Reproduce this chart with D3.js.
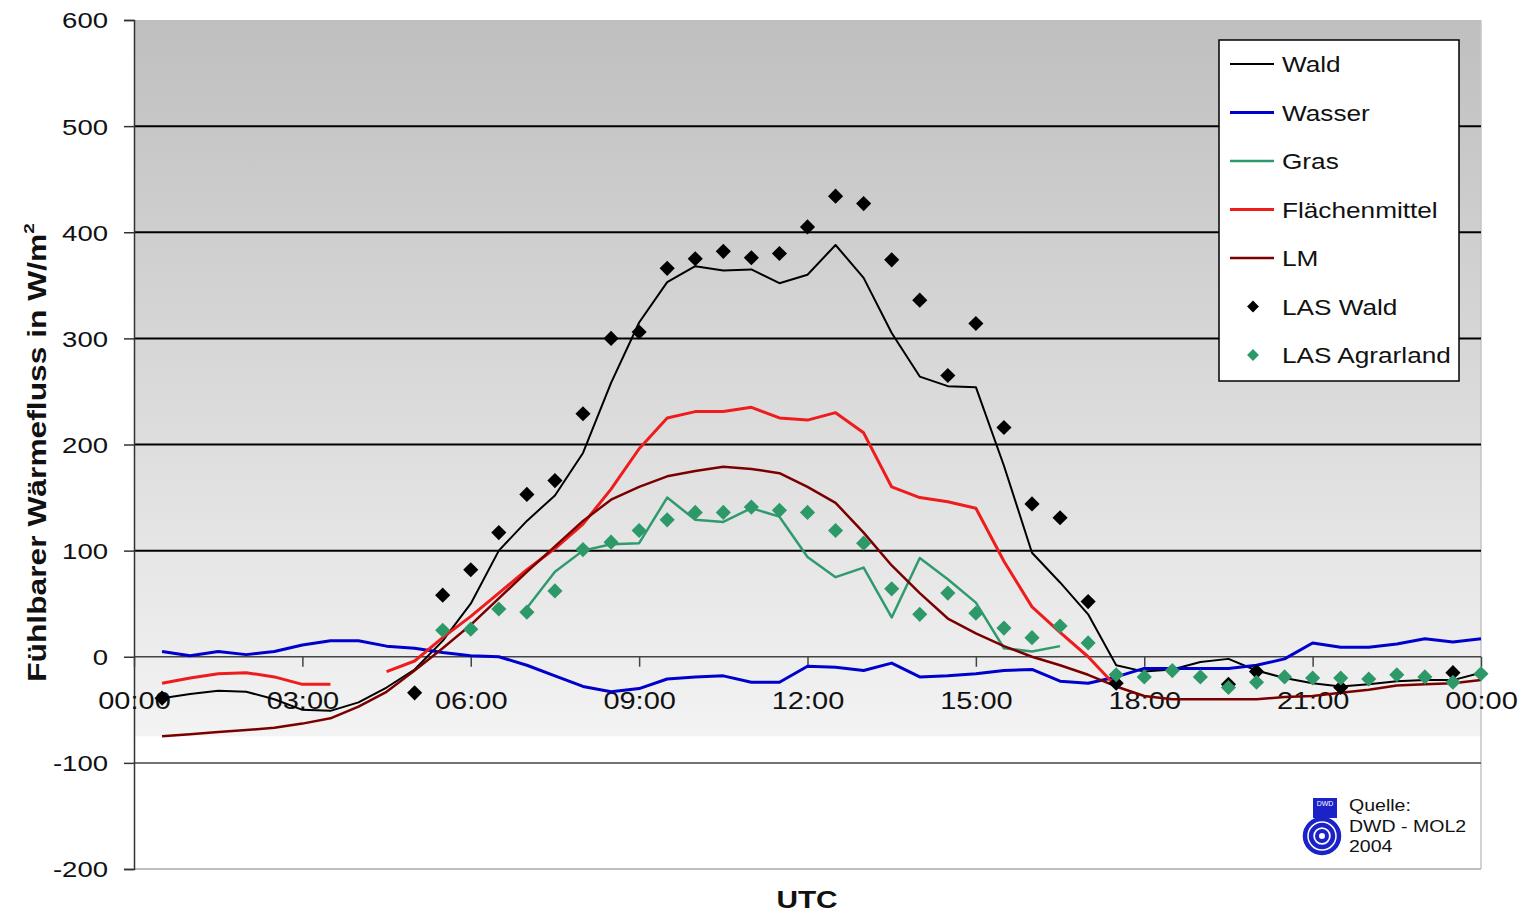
<!DOCTYPE html>
<html>
<head>
<meta charset="utf-8">
<script src="https://cdn.jsdelivr.net/npm/d3@7"></script>
<style>
  html, body { margin: 0; padding: 0; background: #fff; }
  svg { display: block; font-family: "Liberation Sans", Arial, sans-serif; }
</style>
</head>
<body>
<svg id="chart" width="1533" height="915"></svg>
<script>
// ---------- DATA ----------
const times = [0.5,1,1.5,2,2.5,3,3.5,4,4.5,5,5.5,6,6.5,7,7.5,8,8.5,9,9.5,10,10.5,11,11.5,12,
               12.5,13,13.5,14,14.5,15,15.5,16,16.5,17,17.5,18,18.5,19,19.5,20,20.5,21,21.5,22,22.5,23,23.5,24];

const wald = [-39,-35,-32,-33,-40,-50,-51,-43,-29,-12,15,50,100,128,152,192,258,315,353,368,364,365,352,360,
              388,357,305,264,255,254,180,98,70,40,-8,-14,-12,-5,-2,-13,-20,-25,-28,-26,-23,-22,-22,-15];

const wasser = [5,1,5,2,5,11,15,15,10,8,4,1,0,-8,-18,-28,-33,-30,-21,-19,-18,-24,-24,-9,
                -10,-13,-6,-19,-18,-16,-13,-12,-23,-25,-19,-11,-11,-11,-11,-8,-2,13,9,9,12,17,14,17];

const gras = [null,null,null,null,null,null,null,null,null,null,null,null,null,46,80,100,106,107,150,129,127,140,132,94,
              75,84,37,93,73,51,8,5,10,null,null,null,null,null,null,null,null,null,null,null,null,null,null,null];

const flaechenmittel = [-25,-20,-16,-15,-19,-26,-26,null,-14,-4,18,38,60,82,102,125,158,196,225,231,231,235,225,223,
                        230,211,160,150,146,140,90,47,23,0,-28,null,null,null,null,null,null,null,null,null,null,null,null,null];

const lm = [-75,-73,-71,-69,-67,-63,-58,-47,-33,-13,8,30,55,80,104,128,148,160,170,175,179,177,173,160,
            145,117,86,60,36,22,10,0,-8,-17,-28,-37,-40,-40,-40,-40,-38,-37,-34,-31,-27,-26,-25,-22];

const lasWald = [-39,null,null,null,null,null,null,null,null,-34,58,82,117,153,166,229,300,306,366,375,382,376,380,405,
                 434,427,374,336,265,314,216,144,131,52,-25,null,null,null,-26,-14,null,null,-29,null,null,null,-15,null];

const lasAgrar = [null,null,null,null,null,null,null,null,null,null,25,26,45,42,62,101,108,119,129,136,136,141,138,136,
                  119,107,64,40,60,41,27,18,29,13,-17,-19,-13,-19,-29,-24,-19,-20,-20,-21,-17,-19,-24,-16];

const yTicks = [-200,-100,0,100,200,300,400,500,600];
const xTickValues = [0,3,6,9,12,15,18,21,24];
const xTickLabels = ["00:00","03:00","06:00","09:00","12:00","15:00","18:00","21:00","00:00"];

const lineSeries = [
  {name: "Wald", values: wald, color: "#000000", width: 2},
  {name: "Wasser", values: wasser, color: "#0000cc", width: 3},
  {name: "Gras", values: gras, color: "#2f9a6e", width: 2.5},
  {name: "Flächenmittel", values: flaechenmittel, color: "#ee1c1c", width: 3},
  {name: "LM", values: lm, color: "#7a0000", width: 2.5}
];
const pointSeries = [
  {name: "LAS Wald", values: lasWald, color: "#000000"},
  {name: "LAS Agrarland", values: lasAgrar, color: "#2e9968"}
];

// ---------- LAYOUT ----------
const svg = d3.select("#chart");
const x = d3.scaleLinear().domain([0, 24]).range([134, 1481]);
const y = d3.scaleLinear().domain([-200, 600]).range([869, 20]);

function stretch(sel, f) {
  sel.each(function() {
    const L = this.getComputedTextLength();
    this.setAttribute("textLength", L * f);
    this.setAttribute("lengthAdjust", "spacingAndGlyphs");
  });
}

// background gradient
const defs = svg.append("defs");
const grad = defs.append("linearGradient").attr("id", "bg").attr("x1", 0).attr("y1", 0).attr("x2", 0).attr("y2", 1);
grad.append("stop").attr("offset", "0%").attr("stop-color", "#bfbfbf");
grad.append("stop").attr("offset", "100%").attr("stop-color", "#f3f3f3");

svg.append("rect").attr("x", x(0)).attr("y", y(600)).attr("width", x(24) - x(0)).attr("height", y(-75) - y(600))
  .attr("fill", "url(#bg)");

// plot frame (right & bottom light grey)
svg.append("line").attr("x1", x(24)).attr("x2", x(24)).attr("y1", y(600)).attr("y2", y(-200))
  .attr("stroke", "#c4c4c4").attr("stroke-width", 1.5);
svg.append("line").attr("x1", x(0)).attr("x2", x(24)).attr("y1", y(-200)).attr("y2", y(-200))
  .attr("stroke", "#bdbdbd").attr("stroke-width", 2);

// horizontal gridlines
svg.append("g").selectAll("line").data(yTicks.filter(v => v > -200 && v < 600)).join("line")
  .attr("x1", x(0)).attr("x2", x(24)).attr("y1", d => y(d)).attr("y2", d => y(d))
  .attr("stroke", d => d > 0 ? "#000" : "#444").attr("stroke-width", d => d > 0 ? 2 : 1.5);

// y axis
const yAxis = svg.append("g").attr("transform", `translate(${x(0)},0)`)
  .call(d3.axisLeft(y).tickValues(yTicks).tickSize(10).tickPadding(16).tickFormat(d => String(d)));
yAxis.select(".domain").attr("stroke", "#333").attr("stroke-width", 1.5);
yAxis.selectAll(".tick line").attr("stroke", "#333").attr("stroke-width", 1.5);
yAxis.selectAll(".tick text").attr("font-size", 22).attr("fill", "#111")
  .attr("font-family", "Liberation Sans, Arial, sans-serif").attr("dy", "0.36em");
stretch(yAxis.selectAll(".tick text"), 1.25);

// x axis at zero line
const xAxis = svg.append("g").attr("transform", `translate(0,${y(0)})`)
  .call(d3.axisBottom(x).tickValues(xTickValues).tickSize(10).tickPadding(34)
        .tickFormat((d, i) => xTickLabels[i]));
xAxis.select(".domain").remove();
xAxis.selectAll(".tick line").attr("stroke", "#444").attr("stroke-width", 1.5);
xAxis.selectAll(".tick text").attr("font-size", 23).attr("fill", "#111")
  .attr("font-family", "Liberation Sans, Arial, sans-serif").attr("dy", "0.35em");
stretch(xAxis.selectAll(".tick text"), 1.26);

// lines
const lineGen = vals => d3.line()
  .defined((d, i) => vals[i] !== null)
  .x((d, i) => x(times[i]))
  .y((d, i) => y(vals[i]))(vals);

const linesG = svg.append("g");
lineSeries.forEach(s => {
  linesG.append("path").attr("d", lineGen(s.values)).attr("fill", "none")
    .attr("stroke", s.color).attr("stroke-width", s.width).attr("stroke-linejoin", "round");
});

// points (diamonds)
const diamond = d3.symbol().type(d3.symbolSquare).size(115);
pointSeries.forEach(s => {
  svg.append("g").selectAll("path")
    .data(s.values.map((v, i) => ({t: times[i], v})).filter(d => d.v !== null))
    .join("path")
    .attr("d", diamond)
    .attr("transform", d => `translate(${x(d.t)},${y(d.v)}) rotate(45)`)
    .attr("fill", s.color);
});

// y title
const yTitle = svg.append("text")
  .attr("transform", `translate(46,${(y(0) + y(400)) / 2 + 8}) rotate(-90)`)
  .attr("text-anchor", "middle").attr("font-size", 25).attr("font-weight", "bold").attr("fill", "#111");
yTitle.append("tspan").text("Fühlbarer Wärmefluss in W/m");
yTitle.append("tspan").attr("font-size", 15).attr("dy", -12).text("2");
stretch(yTitle, 1.27);

// x title
const xTitle = svg.append("text").attr("x", 807).attr("y", 908).attr("text-anchor", "middle")
  .attr("font-size", 24).attr("font-weight", "bold").attr("fill", "#111").text("UTC");
stretch(xTitle, 1.24);

// legend
const lg = svg.append("g");
lg.append("rect").attr("x", 1219).attr("y", 40).attr("width", 240).attr("height", 341)
  .attr("fill", "#fff").attr("stroke", "#000").attr("stroke-width", 1.5);
const legendItems = lineSeries.map(s => ({...s, type: "line"}))
  .concat(pointSeries.map(s => ({...s, type: "point"})));
const legendY = d3.scalePoint().domain(legendItems.map(d => d.name)).range([64, 355]);
legendItems.forEach(it => {
  const cy = legendY(it.name);
  if (it.type === "line") {
    lg.append("line").attr("x1", 1230).attr("x2", 1274).attr("y1", cy).attr("y2", cy)
      .attr("stroke", it.color).attr("stroke-width", it.width);
  } else {
    lg.append("path").attr("d", d3.symbol().type(d3.symbolSquare).size(70)())
      .attr("transform", `translate(1253,${cy}) rotate(45)`).attr("fill", it.color);
  }
  const t = lg.append("text").attr("x", 1282).attr("y", cy + 8).attr("font-size", 22)
    .attr("fill", "#111").text(it.name);
  stretch(t, 1.19);
});

// source logo + text
const logo = svg.append("g");
logo.append("rect").attr("x", 1313).attr("y", 798).attr("width", 24).attr("height", 20).attr("fill", "#1a22c8");
logo.append("text").attr("x", 1325).attr("y", 806).attr("text-anchor", "middle").attr("font-size", 7)
  .attr("fill", "#fff").text("DWD");
[17, 11, 5].forEach((r, i) => {
  logo.append("circle").attr("cx", 1322).attr("cy", 836).attr("r", r)
    .attr("fill", "none").attr("stroke", "#1a22c8").attr("stroke-width", i === 2 ? 4 : 4.5);
});
["Quelle:", "DWD - MOL2", "2004"].forEach((s, i) => {
  const t = svg.append("text").attr("x", 1349).attr("y", 811 + i * 20.5).attr("font-size", 16)
    .attr("fill", "#111").text(s);
  stretch(t, 1.22);
});
</script>
</body>
</html>
